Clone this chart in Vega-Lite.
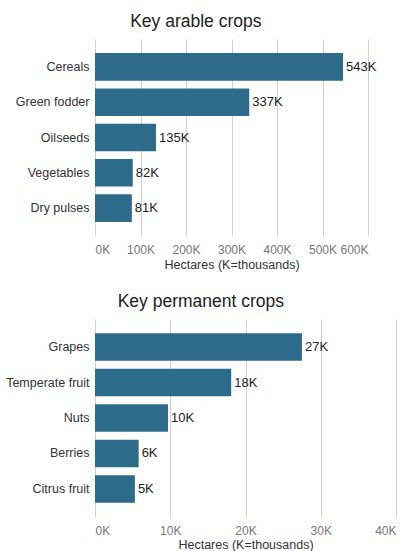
{
  "$schema": "https://vega.github.io/schema/vega-lite/v6.json",
  "background": "white",
  "padding": {"left": 5, "top": 12, "right": 5, "bottom": 0},
  "spacing": 21,
  "config": {
    "font": "Liberation Sans",
    "view": {"stroke": null},
    "title": {"fontSize": 17.5, "fontWeight": "normal", "color": "#222", "offset": 9, "frame": "bounds", "anchor": "middle"},
    "axis": {"labelFont": "Liberation Sans", "titleFont": "Liberation Sans", "titleFontWeight": "normal"}
  },
  "datasets": {
    "arable": [
      {"crop": "Cereals", "ha": 545000, "label": "543K"},
      {"crop": "Green fodder", "ha": 339000, "label": "337K"},
      {"crop": "Oilseeds", "ha": 134000, "label": "135K"},
      {"crop": "Vegetables", "ha": 83000, "label": "82K"},
      {"crop": "Dry pulses", "ha": 81000, "label": "81K"}
    ],
    "permanent": [
      {"crop": "Grapes", "ha": 27500, "label": "27K"},
      {"crop": "Temperate fruit", "ha": 18100, "label": "18K"},
      {"crop": "Nuts", "ha": 9700, "label": "10K"},
      {"crop": "Berries", "ha": 5800, "label": "6K"},
      {"crop": "Citrus fruit", "ha": 5300, "label": "5K"}
    ]
  },
  "vconcat": [
    {
      "title": "Key arable crops",
      "width": 273,
      "height": 197,
      "data": {"name": "arable"},
      "encoding": {
        "y": {"field": "crop", "type": "nominal", "sort": null, "title": null,
              "scale": {"paddingInner": 0.22, "paddingOuter": 0.4},
              "axis": {"domain": false, "ticks": false, "labelFontSize": 12.5, "labelColor": "#333", "labelPadding": 6}},
        "x": {"field": "ha", "type": "quantitative", "title": "Hectares (K=thousands)",
              "scale": {"domain": [0, 600000], "nice": false},
              "axis": {"values": [0, 100000, 200000, 300000, 400000, 500000, 600000], "labelExpr": "datum.value/1000 + 'K'",
                       "domain": false, "ticks": false, "grid": true, "gridColor": "#d0d0d0",
                       "labelFontSize": 12, "labelColor": "#777", "labelPadding": 8, "titleFontSize": 12.5, "titleColor": "#333", "titlePadding": 3}}
      },
      "layer": [
        {"mark": {"type": "bar", "color": "#2d6b8b"}},
        {"mark": {"type": "text", "align": "left", "baseline": "middle", "dx": 3, "fontSize": 13, "color": "#222"},
         "encoding": {"text": {"field": "label"}}}
      ]
    },
    {
      "title": "Key permanent crops",
      "width": 301,
      "height": 198,
      "data": {"name": "permanent"},
      "encoding": {
        "y": {"field": "crop", "type": "nominal", "sort": null, "title": null,
              "scale": {"paddingInner": 0.22, "paddingOuter": 0.4},
              "axis": {"domain": false, "ticks": false, "labelFontSize": 12.5, "labelColor": "#333", "labelPadding": 6}},
        "x": {"field": "ha", "type": "quantitative", "title": "Hectares (K=thousands)",
              "scale": {"domain": [0, 40000], "nice": false},
              "axis": {"values": [0, 10000, 20000, 30000, 40000], "labelExpr": "datum.value/1000 + 'K'",
                       "domain": false, "ticks": false, "grid": true, "gridColor": "#d0d0d0",
                       "labelFontSize": 12, "labelColor": "#777", "labelPadding": 8, "titleFontSize": 12.5, "titleColor": "#333", "titlePadding": 2}}
      },
      "layer": [
        {"mark": {"type": "bar", "color": "#2d6b8b"}},
        {"mark": {"type": "text", "align": "left", "baseline": "middle", "dx": 3, "fontSize": 13, "color": "#222"},
         "encoding": {"text": {"field": "label"}}}
      ]
    }
  ]
}
